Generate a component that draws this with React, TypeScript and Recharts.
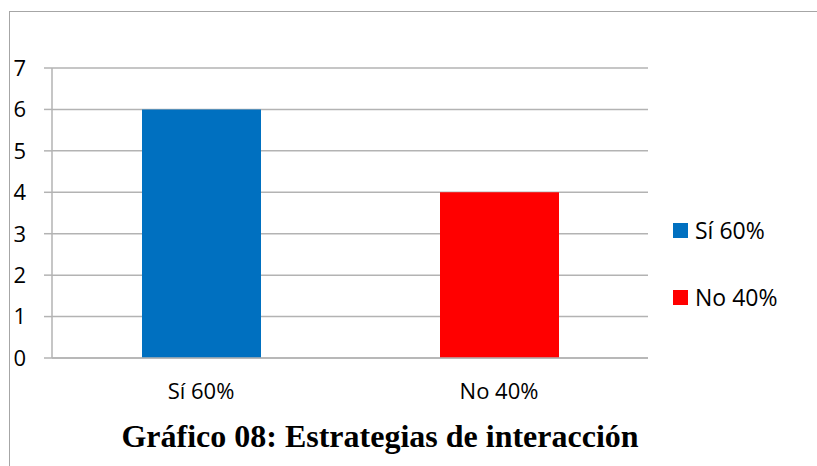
import { BarChart, Bar, Cell, XAxis, YAxis, CartesianGrid } from "recharts";

const categories = ["Sí 60%", "No 40%"];
const counts = [6, 4];
const colors = ["#0070C0", "#FF0000"];
const yTicks = [0, 1, 2, 3, 4, 5, 6, 7];

const data = categories.map((name, i) => ({ name, value: counts[i] }));

const FONT = "'Open Sans', sans-serif";
const GRID = "#b3b3b3";

function LegendBox() {
  return (
    <div style={{ position: "absolute", left: 673, top: 215, fontFamily: FONT, fontSize: 23, color: "#000" }}>
      {categories.map((c, i) => (
        <div
          key={c}
          style={{ display: "flex", alignItems: "center", height: 30, marginBottom: i === 0 ? 37 : 0 }}
        >
          <span style={{ width: 15, height: 15, background: colors[i], marginRight: 7, display: "inline-block" }} />
          {c}
        </div>
      ))}
    </div>
  );
}

export default function App() {
  return (
    <div style={{ position: "fixed", left: 0, top: 0, width: 817, height: 466, background: "#fff", overflow: "hidden" }}>
      <div style={{ position: "absolute", left: 9, top: 11, width: 808, height: 1, background: "#a6a6a6" }} />
      <div style={{ position: "absolute", left: 9, top: 11, width: 1, height: 455, background: "#a6a6a6" }} />
      <BarChart
        width={817}
        height={466}
        data={data}
        margin={{ top: 68, right: 169, bottom: 68, left: 0 }}
        barCategoryGap="30%"
      >
        <CartesianGrid vertical={false} stroke={GRID} strokeWidth={1.5} />
        <XAxis
          dataKey="name"
          tickLine={false}
          tickSize={0}
          tickMargin={25}
          axisLine={{ stroke: GRID, strokeWidth: 1.5 }}
          tick={{ fill: "#000", fontFamily: FONT, fontSize: 22 }}
          height={40}
        />
        <YAxis
          domain={[0, 7]}
          ticks={yTicks}
          interval={0}
          width={52}
          tickSize={8}
          tickMargin={18}
          tickLine={{ stroke: GRID, strokeWidth: 1.5 }}
          axisLine={{ stroke: GRID, strokeWidth: 1.5 }}
          tick={{ fill: "#000", fontFamily: FONT, fontSize: 22 }}
        />
        <Bar dataKey="value" barSize={119} isAnimationActive={false}>
          {data.map((d, i) => (
            <Cell key={d.name} fill={colors[i]} />
          ))}
        </Bar>
      </BarChart>
      <LegendBox />
      <div
        style={{
          position: "absolute",
          left: 0,
          width: 760,
          top: 416,
          textAlign: "center",
          fontFamily: "'Liberation Serif', 'Times New Roman', serif",
          fontWeight: "bold",
          fontSize: 32,
          lineHeight: "40px",
          color: "#000",
        }}
      >
        Gráfico 08: Estrategias de interacción
      </div>
    </div>
  );
}
